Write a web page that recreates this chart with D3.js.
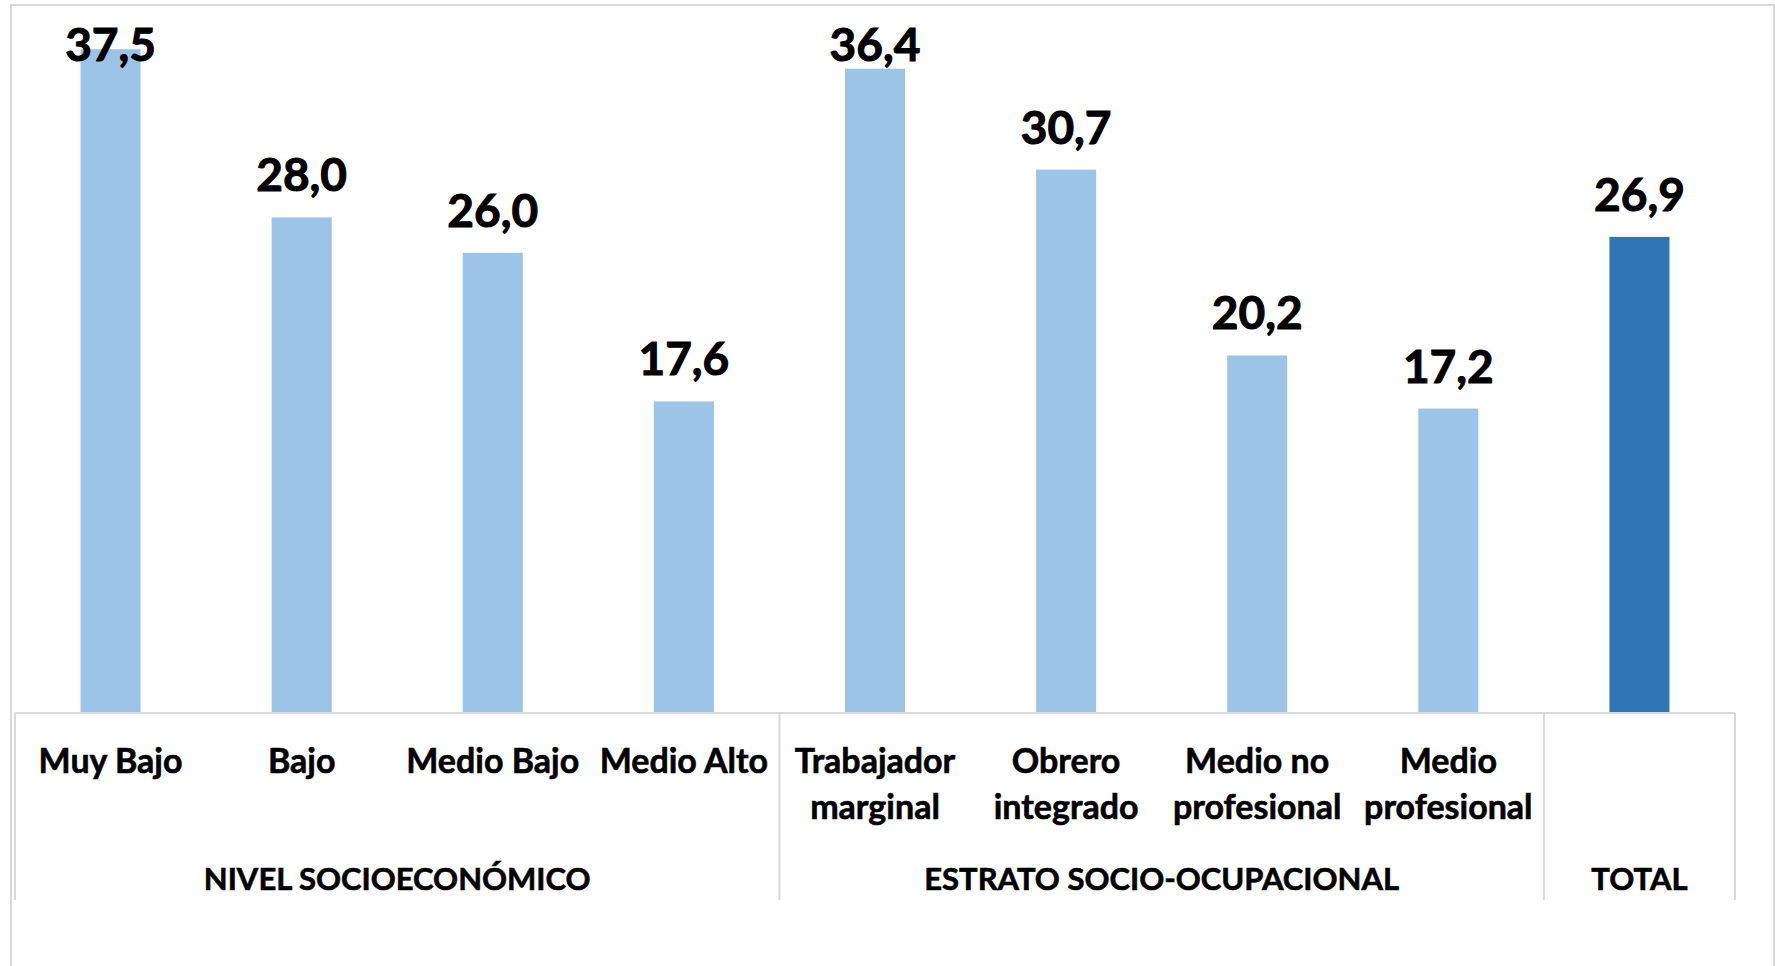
<!DOCTYPE html>
<html>
<head>
  <meta charset="utf-8">
  <title>Nivel socioeconómico y estrato socio-ocupacional</title>
  <script src="https://cdn.jsdelivr.net/npm/d3@7"></script>
  <style>
    body { margin: 0; background: #ffffff; }
    text { font-family: Lato, "Open Sans", sans-serif; font-weight: 700; fill: #000000; stroke: #000000; stroke-width: 0.6px; }
    .axis path.domain { stroke: none; }
  </style>
</head>
<body>
  <script>
    // data
    var categories = ["Muy Bajo", "Bajo", "Medio Bajo", "Medio Alto",
      "Trabajador\nmarginal", "Obrero\nintegrado", "Medio no\nprofesional", "Medio\nprofesional", "TOTAL_BAR"];
    var values = [37.5, 28.0, 26.0, 17.6, 36.4, 30.7, 20.2, 17.2, 26.9];
    var groups = ["NIVEL SOCIOECONÓMICO", "ESTRATO SOCIO-OCUPACIONAL", "TOTAL"];
    var groupSizes = [4, 4, 1];
    var highlight = [false, false, false, false, false, false, false, false, true];

    var W = 1775, H = 966;
    var plot = { left: 15, right: 1735, top: 5, bottom: 713 };

    var svg = d3.select("body").append("svg")
      .attr("width", W)
      .attr("height", H);

    // outer chart frame
    svg.append("rect")
      .attr("x", 11).attr("y", 5)
      .attr("width", 1763).attr("height", 1000)
      .attr("fill", "none")
      .attr("stroke", "#d9d9d9")
      .attr("stroke-width", 2);

    var x = d3.scaleBand()
      .domain(d3.range(categories.length))
      .range([plot.left, plot.right])
      .padding(0);

    var y = d3.scaleLinear()
      .domain([0, 40])
      .range([plot.bottom, plot.top]);

    var barW = x.bandwidth() * 0.314;

    //bars
    svg.selectAll(".bar")
      .data(values)
      .enter().append("rect")
      .attr("class", "bar")
      .attr("x", function (d, i) { return x(i) + x.bandwidth() / 2 - barW / 2; })
      .attr("y", function (d) { return y(d); })
      .attr("width", barW)
      .attr("height", function (d) { return y(0) - y(d); })
      .attr("fill", function (d, i) { return highlight[i] ? "#2E75B6" : "#9DC3E6"; });

    //value labels, kept inside the plot area at the top
    svg.selectAll(".val")
      .data(values)
      .enter().append("text")
      .attr("class", "val")
      .attr("x", function (d, i) { return x(i) + x.bandwidth() / 2; })
      .attr("y", function (d) { return Math.max(y(d) - 26, 61); })
      .attr("text-anchor", "middle")
      .style("font-size", "46px")
      .style("stroke-width", "1px")
      .text(function (d) { return d3.format(".1f")(d).replace(".", ","); });

    // category axis line
    var axis = d3.axisBottom(x).tickSize(0).tickFormat("");
    svg.append("g")
      .attr("class", "axis")
      .attr("transform", "translate(0," + plot.bottom + ")")
      .call(axis);

    svg.append("line")
      .attr("x1", plot.left).attr("x2", plot.right)
      .attr("y1", plot.bottom).attr("y2", plot.bottom)
      .attr("stroke", "#d9d9d9").attr("stroke-width", 2);

    // category labels (first level)
    var catText = svg.selectAll(".cat")
      .data(categories)
      .enter().append("text")
      .attr("class", "cat")
      .attr("text-anchor", "middle")
      .style("font-size", "34px");

    catText.each(function (d, i) {
      if (d === "TOTAL_BAR") return;
      var lines = d.split("\n");
      var t = d3.select(this);
      lines.forEach(function (l, k) {
        t.append("tspan")
          .attr("x", x(i) + x.bandwidth() / 2)
          .attr("y", 773 + k * 46)
          .text(l);
      });
    });

    // group separators and group labels (second level)
    var start = 0;
    var bounds = [0];
    groupSizes.forEach(function (n) { start += n; bounds.push(start); });

    svg.selectAll(".sep")
      .data(bounds)
      .enter().append("line")
      .attr("class", "sep")
      .attr("x1", function (b) { return b < categories.length ? x(b) : plot.right; })
      .attr("x2", function (b) { return b < categories.length ? x(b) : plot.right; })
      .attr("y1", plot.bottom)
      .attr("y2", 900)
      .attr("stroke", "#d9d9d9")
      .attr("stroke-width", 2);

    svg.selectAll(".grp")
      .data(groups)
      .enter().append("text")
      .attr("class", "grp")
      .attr("text-anchor", "middle")
      .attr("x", function (g, i) {
        var a = x(bounds[i]);
        var b = bounds[i + 1] < categories.length ? x(bounds[i + 1]) : plot.right;
        return (a + b) / 2;
      })
      .attr("y", 890)
      .style("font-size", "31px")
      .text(function (g) { return g; });
  </script>
</body>
</html>
